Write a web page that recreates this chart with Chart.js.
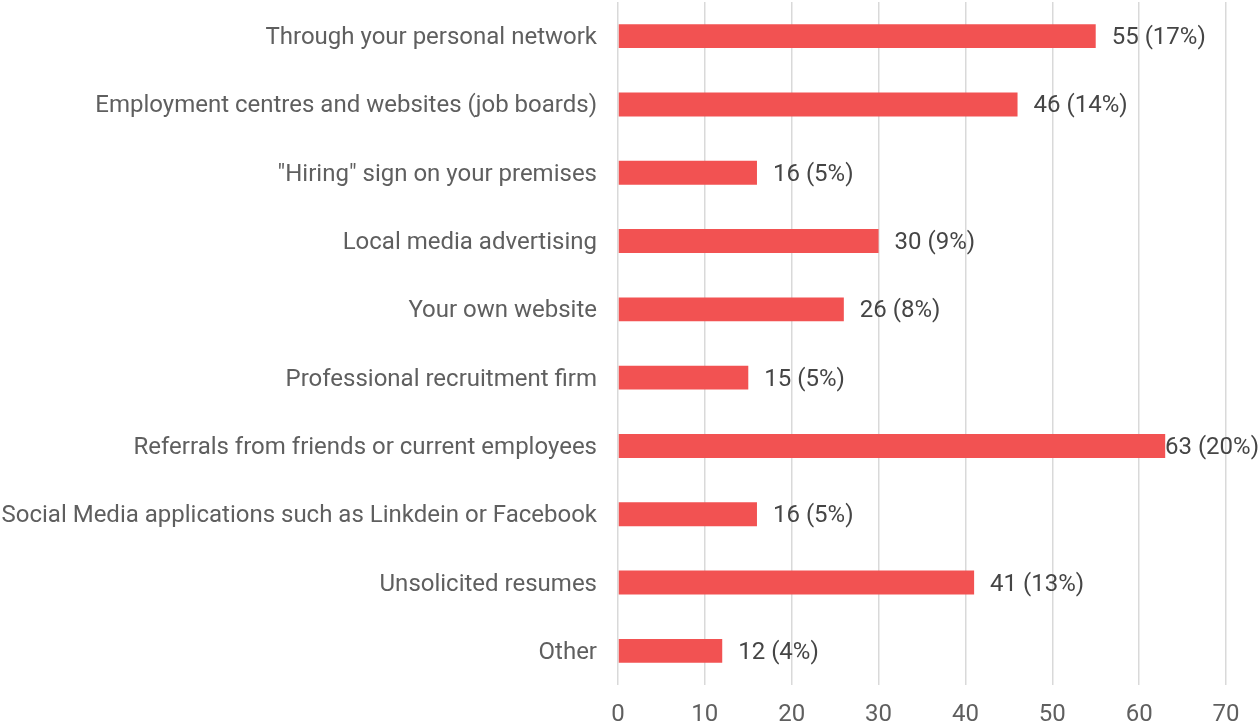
<!DOCTYPE html>
<html>
<head>
<meta charset="utf-8">
<script src="https://cdn.jsdelivr.net/npm/chart.js@4/dist/chart.umd.min.js"></script>
<style>
  html, body { margin: 0; padding: 0; background: #ffffff; }
  #wrap { width: 1259px; height: 725px; position: relative; }
</style>
</head>
<body>
<div id="wrap"><canvas id="chart"></canvas></div>
<script>
// Recruitment channels used, with response counts and share of all responses
const categories = [
  'Through your personal network',
  'Employment centres and websites (job boards)',
  '"Hiring" sign on your premises',
  'Local media advertising',
  'Your own website',
  'Professional recruitment firm',
  'Referrals from friends or current employees',
  'Social Media applications such as Linkdein or Facebook',
  'Unsolicited resumes',
  'Other'
];
const counts = [55, 46, 16, 30, 26, 15, 63, 16, 41, 12];
const percents = [17, 14, 5, 9, 8, 5, 20, 5, 13, 4];
const xTicks = [0, 10, 20, 30, 40, 50, 60, 70];

const FONT = 'Roboto, "Liberation Sans", Arial, sans-serif';
const FONT_SIZE = 24;

// Writes "count (pct%)" to the right of each bar, kept inside the canvas
const valueLabels = {
  id: 'valueLabels',
  afterDatasetsDraw(chart) {
    const ctx = chart.ctx;
    const meta = chart.getDatasetMeta(0);
    ctx.save();
    ctx.font = FONT_SIZE + 'px ' + FONT;
    ctx.fillStyle = '#454545';
    ctx.textBaseline = 'middle';
    ctx.textAlign = 'left';
    meta.data.forEach((bar, i) => {
      const text = counts[i] + ' (' + percents[i] + '%)';
      const w = ctx.measureText(text).width;
      let x = bar.x + 16;
      if (x + w > chart.width) x = chart.width - w;
      ctx.fillText(text, x, bar.y + 2);
    });
    ctx.restore();
  }
};

new Chart(document.getElementById('chart'), {
  type: 'bar',
  data: {
    labels: categories,
    datasets: [{
      data: counts,
      backgroundColor: '#F25252',
      borderWidth: 0,
      categoryPercentage: 0.35,
      barPercentage: 1.0
    }]
  },
  options: {
    indexAxis: 'y',
    responsive: true,
    maintainAspectRatio: false,
    animation: false,
    layout: { padding: { top: 2, right: 33, left: 0, bottom: 0 } },
    plugins: {
      legend: { display: false },
      tooltip: { enabled: false }
    },
    scales: {
      x: {
        min: 0,
        max: 70,
        afterBuildTicks(scale) { scale.ticks = xTicks.map(v => ({ value: v })); },
        afterFit(scale) {
          scale.height = 40;
          scale.paddingLeft = 0;
          scale.paddingRight = 0;
        },
        grid: { color: '#d9d9d9', lineWidth: 1.5, drawTicks: false },
        border: { display: false },
        ticks: {
          padding: 16,
          maxRotation: 0,
          color: '#5f5f5f',
          font: { family: FONT, size: FONT_SIZE }
        }
      },
      y: {
        afterFit(scale) {
          scale.width = 618;
          scale.paddingTop = 0;
          scale.paddingBottom = 0;
        },
        grid: { display: false, drawTicks: false },
        border: { display: false },
        ticks: {
          padding: 21,
          labelOffset: 2,
          color: '#5f5f5f',
          font: { family: FONT, size: FONT_SIZE }
        }
      }
    }
  },
  plugins: [valueLabels]
});
</script>
</body>
</html>
